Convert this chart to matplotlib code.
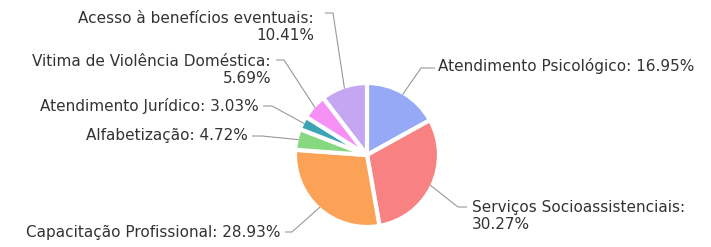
import numpy as np
import matplotlib
matplotlib.use("Agg")
import matplotlib.pyplot as plt

categories = ["Atendimento Psicológico", "Serviços Socioassistenciais",
              "Capacitação Profissional", "Alfabetização", "Atendimento Jurídico",
              "Vitima de Violência Doméstica", "Acesso à benefícios eventuais"]
values = [16.95, 30.27, 28.93, 4.72, 3.03, 5.69, 10.41]
colors = ["#95a9f7", "#f88282", "#fca257", "#86d97e", "#3ba3b3", "#f690f4", "#c4a6f2"]

W, H = 711, 247
fig = plt.figure(figsize=(W / 100, H / 100), dpi=100)
ax = fig.add_axes([0, 0, 1, 1])

cx, cy, R = 367, H - 155, 72
wedges, _ = ax.pie(values, colors=colors, startangle=90, counterclock=False,
                   center=(cx, cy), radius=R, frame=True,
                   wedgeprops=dict(edgecolor="white", linewidth=3))
ax.set_xlim(0, W)
ax.set_ylim(0, H)
ax.set_aspect("equal")
ax.axis("off")

# label layout: (text x, text center y px, ha, lines, elbow points px)
layout = [
    (438, 65, "left", ["Atendimento Psicológico: 16.95%"], [(421, 68), (435, 68)]),
    (472, 216, "left", ["Serviços Socioassistenciais:", "30.27%"], [(458, 207), (467, 207)]),
    (281, 231, "right", ["Capacitação Profissional: 28.93%"], [(292, 232), (285, 232)]),
    (248, 134, "right", ["Alfabetização: 4.72%"], [(262, 136), (252, 136)]),
    (259, 104, "right", ["Atendimento Jurídico: 3.03%"], [(272, 106), (263, 106)]),
    (271, 70, "right", ["Vitima de Violência Doméstica:", "5.69%"], [(284, 60), (276, 60)]),
    (314, 27, "right", ["Acesso à benefícios eventuais:", "10.41%"], [(333, 13), (325, 13)]),
]

for w, (tx, ty, ha, lines, elbow) in zip(wedges, layout):
    ang = np.deg2rad((w.theta1 + w.theta2) / 2)
    sx = cx + (R - 2) * np.cos(ang)
    sy = cy + (R - 2) * np.sin(ang)
    xs = [sx] + [p[0] for p in elbow]
    ys = [sy] + [H - p[1] for p in elbow]
    ax.plot(xs, ys, color="#999999", lw=0.8, solid_capstyle="butt")
    ax.text(tx, H - ty, "\n".join(lines), ha=ha, va="center_baseline" if len(lines) == 1 else "center",
            multialignment="right" if ha == "right" else "left",
            fontsize=11, color="#333333", family="DejaVu Sans", linespacing=1.2)

fig.savefig("out.png", dpi=100, facecolor="white")
